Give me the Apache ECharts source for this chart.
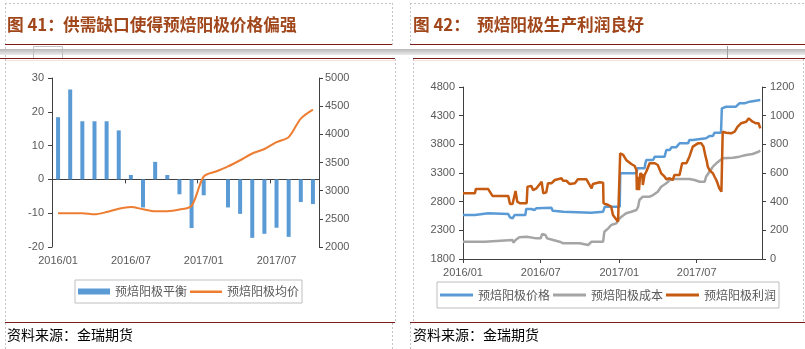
<!DOCTYPE html>
<html><head><meta charset="utf-8">
<script src="https://cdn.jsdelivr.net/npm/echarts@6/dist/echarts.min.js"></script>
<style>html,body{margin:0;padding:0;background:#fff}#c{width:805px;height:349px}</style>
</head><body><div id="c"></div>
<script>
// ---------- Left chart (图41) ----------
const leftCategories = ['2016/01','2016/02','2016/03','2016/04','2016/05','2016/06','2016/07','2016/08','2016/09','2016/10','2016/11','2016/12',
  '2017/01','2017/02','2017/03','2017/04','2017/05','2017/06','2017/07','2017/08','2017/09','2017/10'];
const balanceValues = [18.4, 26.6, 17.2, 17.2, 17.2, 14.5, 1.3, -8.3, 5.2, 1.3, -4.4, -14.4,
  -4.7, 0, -8.3, -10.2, -17.3, -16.1, -14.3, -17.0, -6.7, -7.3];
const avgPriceValues = [2600, 2600, 2600, 2580, 2620, 2680, 2710, 2670, 2635, 2635, 2665, 2730,
  3250, 3340, 3430, 3540, 3660, 3740, 3860, 3950, 4280, 4440];
const leftTickLabels = ['2016/01','2016/07','2017/01','2017/07'];

// ---------- Right chart (图42) ----------
const priceDates = ['2016-01-01','2016-01-29','2016-01-31','2016-02-29','2016-03-03','2016-04-16','2016-04-20','2016-04-26','2016-05-01','2016-05-26',
  '2016-05-28','2016-06-09','2016-06-16','2016-06-21','2016-07-26','2016-07-29','2016-08-23','2016-08-26','2016-10-27','2016-10-31',
  '2016-11-24','2016-11-28','2017-01-02','2017-01-03','2017-02-10','2017-02-12','2017-03-01','2017-03-03','2017-03-05','2017-03-21',
  '2017-03-25','2017-04-17','2017-04-21','2017-04-29','2017-05-03','2017-05-14','2017-05-22','2017-06-11','2017-06-14','2017-06-22',
  '2017-06-26','2017-07-23','2017-07-31','2017-08-08','2017-08-12','2017-08-27','2017-08-29','2017-09-08','2017-10-01','2017-10-09',
  '2017-10-21','2017-10-25','2017-11-02','2017-11-06','2017-11-27'];
const priceValues = [2567,2567,2597,2597,2585,2585,2527,2510,2567,2567,
  2672,2672,2655,2684,2695,2643,2625,2608,2608,2625,
  2625,2712,2712,3295,3295,3382,3382,3469,3527,3527,
  3585,3585,3701,3701,3748,3748,3818,3818,3875,3875,
  3905,3905,3945,3945,4003,4003,4428,4456,4456,4515,
  4515,4544,4544,4573,4573];

const costDates = ['2016-01-01','2016-02-21','2016-02-23','2016-04-26','2016-04-28','2016-05-03','2016-05-12','2016-05-29','2016-06-21','2016-07-01',
  '2016-07-04','2016-07-12','2016-07-16','2016-07-30','2016-08-14','2016-08-23','2016-09-30','2016-10-20','2016-10-24','2016-10-28',
  '2016-11-24','2016-11-27','2016-12-06','2016-12-13','2016-12-17','2016-12-25','2016-12-29','2017-01-06','2017-01-17','2017-01-29',
  '2017-02-10','2017-02-14','2017-02-17','2017-02-25','2017-03-13','2017-03-21','2017-04-01','2017-04-09','2017-04-21','2017-04-29',
  '2017-05-10','2017-06-14','2017-06-26','2017-07-08','2017-07-12','2017-07-20','2017-07-23','2017-07-31','2017-08-08','2017-08-16',
  '2017-08-31','2017-09-24','2017-10-09','2017-10-25','2017-11-09','2017-11-23','2017-11-27'];
const costValues = [2102,2102,2131,2131,2085,2131,2178,2189,2160,2160,
  2236,2218,2160,2131,2102,2073,2073,2044,2061,2102,
  2102,2276,2335,2393,2422,2422,2480,2538,2597,2625,
  2655,2712,2829,2887,2887,2916,2974,3061,3120,3178,
  3195,3195,3178,3148,3120,3148,3235,3323,3410,3469,
  3556,3567,3585,3614,3631,3671,3690];

const profitDates = ['2016-01-01','2016-01-29','2016-01-31','2016-02-29','2016-03-10','2016-04-16','2016-04-20','2016-04-26','2016-05-03','2016-05-07',
  '2016-05-13','2016-05-29','2016-05-31','2016-06-09','2016-06-13','2016-06-21','2016-07-03','2016-07-07','2016-07-14','2016-07-18',
  '2016-07-26','2016-08-03','2016-08-07','2016-08-19','2016-08-22','2016-08-30','2016-09-07','2016-09-19','2016-09-26','2016-10-16',
  '2016-10-28','2016-10-31','2016-11-16','2016-11-24','2016-11-25','2016-12-06','2016-12-13','2016-12-17','2016-12-21','2016-12-29',
  '2017-01-02','2017-01-03','2017-01-10','2017-01-17','2017-01-29','2017-02-06','2017-02-10','2017-02-11','2017-02-14','2017-02-16',
  '2017-02-19','2017-02-24','2017-02-25','2017-03-01','2017-03-05','2017-03-09','2017-03-13','2017-03-17','2017-03-25','2017-04-01',
  '2017-04-05','2017-04-09','2017-04-17','2017-04-21','2017-04-29','2017-05-06','2017-05-10','2017-05-22','2017-05-28','2017-06-07',
  '2017-06-14','2017-06-22','2017-07-04','2017-07-12','2017-07-17','2017-07-22','2017-07-25','2017-07-27','2017-07-31','2017-08-04',
  '2017-08-08','2017-08-12','2017-08-16','2017-08-19','2017-08-23','2017-08-28','2017-08-31','2017-09-08','2017-09-20','2017-09-24',
  '2017-09-28','2017-10-01','2017-10-05','2017-10-09','2017-10-13','2017-10-17','2017-10-25','2017-10-31','2017-11-03','2017-11-09',
  '2017-11-17','2017-11-23','2017-11-27'];
const profitValues = [458,458,488,488,440,440,384,384,474,400,
  389,389,505,509,481,493,539,458,465,528,
  528,551,563,563,546,546,523,528,556,556,
  493,523,535,532,389,377,365,307,295,260,
  249,737,726,691,663,649,621,481,574,481,
  598,586,516,586,609,598,668,663,668,656,
  644,598,574,556,563,551,586,586,668,668,
  714,784,807,807,784,714,679,644,621,633,
  598,574,551,528,493,470,888,881,877,865,
  888,900,923,935,947,958,958,981,970,958,
  947,947,912];
const rightTickLabels = ['2016/01','2016/07','2017/01','2017/07'];
const rightLeftTicks = [1800, 2300, 2800, 3300, 3800, 4300, 4800];

// ---------- build ----------
const axisColor = '#404040', labelColor = '#595959';
const numFont = 'Liberation Sans, Arial, sans-serif';
const cjk = 'Noto Sans CJK SC, sans-serif';
const toTs = s => { const p = s.split(/[-\/]/).map(Number); return new Date(p[0], p[1]-1, p[2]||1).getTime(); };
const rightTickTs = rightTickLabels.map(toTs);
const pair = (ds, vs) => ds.map((d, i) => [toTs(d), vs[i]]);

const chart = echarts.init(document.getElementById('c'), null, {renderer: 'canvas'});

const yBase = (pos, min, max, interval, grid, margin) => ({
  type: 'value', gridIndex: grid, position: pos, min, max, interval,
  axisLine: {show: true, onZero: false, lineStyle: {color: axisColor, width: 1}},
  axisTick: {show: true, length: 4, lineStyle: {color: axisColor}},
  splitLine: {show: false},
  axisLabel: {color: labelColor, fontSize: 11, fontFamily: numFont, margin, formatter: v => String(v)}
});

const rLeft = yBase('left', 1800, 4800, null, 1, 8);
delete rLeft.interval;
rLeft.axisLabel.customValues = rightLeftTicks;
rLeft.axisTick.customValues = rightLeftTicks;

const lineCol = '#7a1c1c', dash = '#c4c4c4';
const L = (x1, y1, x2, y2, stroke, dashed, w) => ({
  type: 'line', silent: true,
  shape: {x1, y1, x2, y2},
  style: {stroke, lineWidth: w || 1, lineDash: dashed ? [2, 2] : null}
});
const lineIcon = 'path://M0,0 M0,6 M0,2 L32,2 L32,4.5 L0,4.5 Z';

const option = {
  animation: false,
  backgroundColor: '#fff',
  title: [
    {text: '图 41：', left: 7, top: 16, padding: 0, textStyle: {color: '#a0461a', fontSize: 16.7, fontWeight: 'bold', fontFamily: cjk}},
    {text: '供需缺口使得预焙阳极价格偏强', left: 63, top: 16, padding: 0, textStyle: {color: '#a0461a', fontSize: 16.7, fontWeight: 'bold', fontFamily: cjk}},
    {text: '图 42：', left: 413, top: 16, padding: 0, textStyle: {color: '#a0461a', fontSize: 16.7, fontWeight: 'bold', fontFamily: cjk}},
    {text: '预焙阳极生产利润良好', left: 477, top: 16, padding: 0, textStyle: {color: '#a0461a', fontSize: 16.7, fontWeight: 'bold', fontFamily: cjk}}
  ],
  grid: [
    {left: 52, top: 78, width: 267, height: 169},
    {left: 463, top: 87, width: 299, height: 172}
  ],
  legend: [
    {
      left: 75, top: 280, orient: 'horizontal', itemWidth: 32, itemHeight: 6, itemGap: 3,
      padding: [5, 3, 5, 3], borderColor: '#bfbfbf', borderWidth: 1,
      data: [{name: '预焙阳极平衡', icon: 'rect'}, {name: '预焙阳极均价', icon: lineIcon}],
      textStyle: {fontSize: 12, color: labelColor, fontFamily: cjk, lineHeight: 13}
    },
    {
      left: 437, top: 282, orient: 'horizontal', itemWidth: 33, itemHeight: 3, itemGap: 3, icon: 'rect',
      padding: [6, 3, 6, 3], borderColor: '#bfbfbf', borderWidth: 1,
      data: ['预焙阳极价格', '预焙阳极成本', '预焙阳极利润'],
      textStyle: {fontSize: 12, color: labelColor, fontFamily: cjk, lineHeight: 14}
    }
  ],
  xAxis: [
    {
      type: 'category', gridIndex: 0, position: 'bottom', data: leftCategories, boundaryGap: true,
      axisLine: {show: false, onZero: false}, axisTick: {show: false}, splitLine: {show: false},
      axisLabel: {interval: 5, color: labelColor, fontSize: 11, fontFamily: numFont, margin: 8,
        formatter: v => leftTickLabels.indexOf(v) >= 0 ? v : ''}
    },
    {
      type: 'category', gridIndex: 0, position: 'bottom', data: leftCategories, boundaryGap: true,
      axisLine: {show: true, onZero: true, onZeroAxisIndex: 0, lineStyle: {color: axisColor}},
      axisTick: {show: true, interval: 5, length: 4, lineStyle: {color: axisColor}},
      axisLabel: {show: false}, splitLine: {show: false}
    },
    {
      type: 'value', gridIndex: 1, position: 'bottom',
      min: toTs('2016-01-01'), max: toTs('2017-12-01'),
      axisLine: {show: true, onZero: false, lineStyle: {color: axisColor}},
      axisTick: {show: true, length: 4, customValues: rightTickTs, lineStyle: {color: axisColor}},
      splitLine: {show: false},
      axisLabel: {customValues: rightTickTs, color: labelColor, fontSize: 11, fontFamily: numFont, margin: 8,
        formatter: v => { const i = rightTickTs.indexOf(+v); return i >= 0 ? rightTickLabels[i] : ''; }}
    }
  ],
  yAxis: [
    yBase('left', -20, 30, 10, 0, 8),
    yBase('right', 2000, 5000, 500, 0, 6),
    rLeft,
    yBase('right', 0, 1200, 200, 1, 8)
  ],
  series: [
    {name: '预焙阳极平衡', type: 'bar', xAxisIndex: 0, yAxisIndex: 0, data: balanceValues, barWidth: 4,
      itemStyle: {color: '#5b9bd5'}},
    {name: '预焙阳极均价', type: 'line', xAxisIndex: 0, yAxisIndex: 1, data: avgPriceValues, smooth: 0.3,
      symbol: 'none', lineStyle: {color: '#ed7d31', width: 2}, itemStyle: {color: '#ed7d31'}},
    {name: '预焙阳极价格', type: 'line', xAxisIndex: 2, yAxisIndex: 2, data: pair(priceDates, priceValues),
      symbol: 'none', lineStyle: {color: '#5b9bd5', width: 2.5}, itemStyle: {color: '#5b9bd5'}},
    {name: '预焙阳极成本', type: 'line', xAxisIndex: 2, yAxisIndex: 2, data: pair(costDates, costValues),
      symbol: 'none', lineStyle: {color: '#a5a5a5', width: 2.5}, itemStyle: {color: '#a5a5a5'}},
    {name: '预焙阳极利润', type: 'line', xAxisIndex: 2, yAxisIndex: 3, data: pair(profitDates, profitValues),
      symbol: 'none', lineStyle: {color: '#c55a11', width: 2.5}, itemStyle: {color: '#c55a11'}}
  ],
  graphic: [
    L(5, 3.5, 392, 3.5, dash, true), L(410, 3.5, 805, 3.5, dash, true),
    L(5.5, 3, 5.5, 349, dash, true),
    L(392.5, 3, 392.5, 45, dash, true), L(410.5, 3, 410.5, 45, dash, true),
    L(395.5, 59, 395.5, 322, dash, true), L(413.5, 59, 413.5, 322, dash, true),
    L(392.5, 323, 392.5, 349, dash, true), L(410.5, 323, 410.5, 349, dash, true),
    L(803.5, 59, 803.5, 322, dash, true),
    {type: 'rect', silent: true, shape: {x: 0, y: 49, width: 805, height: 6},
      style: {fill: new echarts.graphic.LinearGradient(0, 0, 0, 1, [{offset: 0, color: '#b8b8b8'}, {offset: 1, color: '#ececec'}])}},
    {type: 'rect', silent: true, shape: {x: 33.5, y: 46.5, width: 29, height: 12}, style: {fill: null, stroke: '#c0c0c0', lineWidth: 1}},
    L(727.5, 46, 727.5, 58, '#a0a0a0', false),
    L(5, 44.5, 392, 44.5, lineCol, false), L(410, 44.5, 805, 44.5, lineCol, false),
    L(0, 58.5, 395, 58.5, lineCol, false), L(413, 58.5, 805, 58.5, lineCol, false),
    L(5, 322.5, 395, 322.5, lineCol, false), L(410, 322.5, 805, 322.5, lineCol, false),
    L(6, 60.5, 395, 60.5, '#f3e3dc', false), L(414, 60.5, 803, 60.5, '#f3e3dc', false),
    {type: 'text', silent: true, x: 7, y: 335, style: {text: '资料来源：金瑞期货', fill: '#000', font: '14px Noto Sans CJK SC', verticalAlign: 'middle'}},
    {type: 'text', silent: true, x: 413, y: 335, style: {text: '资料来源：金瑞期货', fill: '#000', font: '14px Noto Sans CJK SC', verticalAlign: 'middle'}}
  ]
};
chart.setOption(option);
</script></body></html>
